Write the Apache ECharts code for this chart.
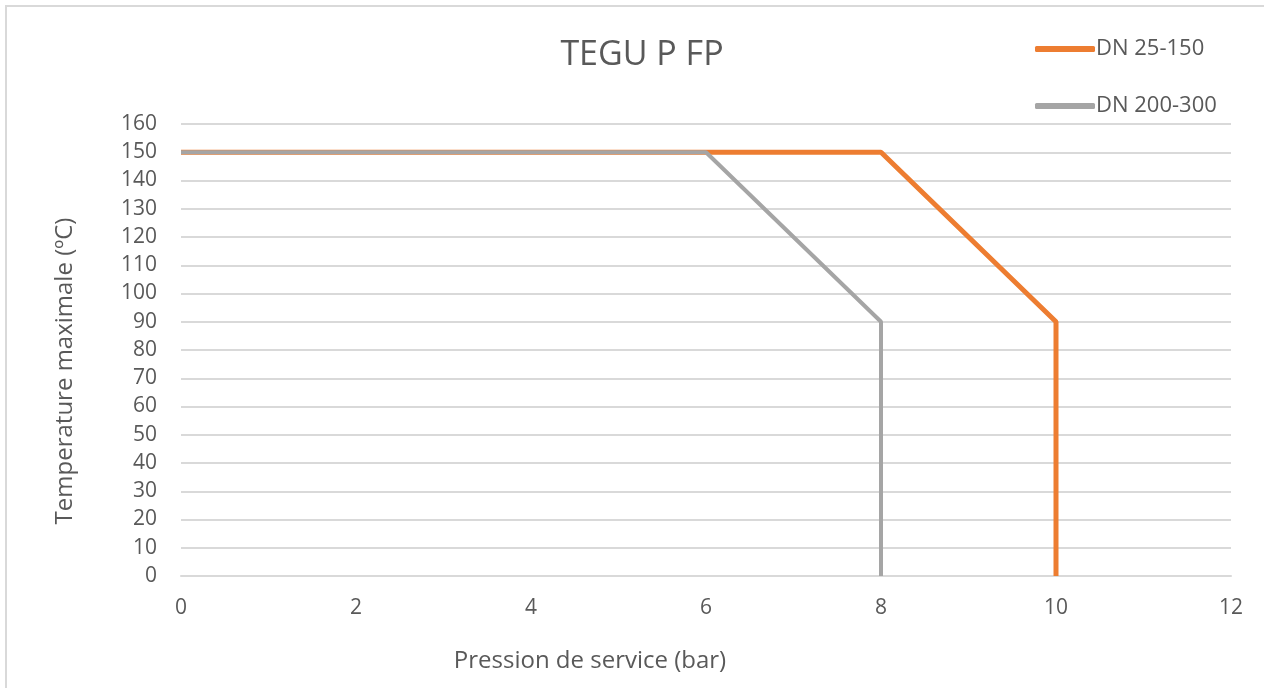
<!DOCTYPE html>
<html>
<head>
<meta charset="utf-8">
<script src="https://cdn.jsdelivr.net/npm/echarts@6/dist/echarts.min.js"></script>
<style>
    html, body { margin: 0; padding: 0; background: #fff; }
    #chart { width: 1264px; height: 688px; }
</style>
</head>
<body>
<div id="chart"></div>
<script>
// Séries (pression en bar, température en ºC)
var seriesNames = ['DN 25-150', 'DN 200-300'];
var pressionDN25 = [0, 8, 10, 10];
var tempDN25 = [150, 150, 90, 0];
var pressionDN200 = [0, 6, 8, 8];
var tempDN200 = [150, 150, 90, 0];
var colors = ['#ED7D31', '#A5A5A5'];

function toPoints(xs, ys) {
    var pts = [];
    for (var i = 0; i < xs.length; i++) {
        pts.push([xs[i], ys[i]]);
    }
    return pts;
}

var txt = '#595959';
var font = '"Open Sans", "Noto Sans", sans-serif';

var chart = echarts.init(document.getElementById('chart'));
var option = {
    backgroundColor: '#fff',
    animation: false,
    graphic: [{
        type: 'rect',
        shape: { x: 6, y: 6, width: 1300, height: 720 },
        style: { fill: 'none', stroke: '#d9d9d9', lineWidth: 2 },
        silent: true
    }],
    title: {
        text: 'TEGU P FP',
        left: 637,
        top: 33,
        textAlign: 'center',
        textStyle: { color: txt, fontSize: 34, fontWeight: 'normal', fontFamily: font }
    },
    legend: {
        orient: 'vertical',
        left: 1030,
        top: 33,
        itemWidth: 60,
        itemHeight: 6,
        itemGap: 35,
        icon: 'roundRect',
        textStyle: { color: txt, fontSize: 22, fontFamily: font, padding: [0, 0, 0, -4] },
        data: seriesNames
    },
    grid: {
        left: 181,
        right: 33,
        top: 124,
        bottom: 112
    },
    xAxis: {
        type: 'value',
        min: 0,
        max: 12,
        interval: 2,
        name: 'Pression de service (bar)',
        nameLocation: 'middle',
        nameGap: 73,
        nameTextStyle: { color: txt, fontSize: 24, fontFamily: font, padding: [0, 232, 0, 0] },
        axisLine: { show: true, lineStyle: { color: '#d9d9d9', width: 2 } },
        axisTick: { show: false },
        splitLine: { show: false },
        axisLabel: { color: txt, fontSize: 21, fontFamily: font, margin: 22 }
    },
    yAxis: {
        type: 'value',
        min: 0,
        max: 160,
        interval: 10,
        name: 'Temperature maximale (ºC)',
        nameLocation: 'middle',
        nameGap: 104,
        nameTextStyle: { color: txt, fontSize: 24, fontFamily: font, padding: [0, 42, 0, 0] },
        axisLine: { show: false },
        axisTick: { show: false },
        splitLine: { show: true, lineStyle: { color: '#d9d9d9', width: 2 } },
        axisLabel: { color: txt, fontSize: 21, fontFamily: font, margin: 24 }
    },
    series: [
        {
            name: seriesNames[0],
            type: 'line',
            symbol: 'none',
            color: colors[0],
            lineStyle: { width: 5, color: colors[0] },
            data: toPoints(pressionDN25, tempDN25)
        },
        {
            name: seriesNames[1],
            type: 'line',
            symbol: 'none',
            color: colors[1],
            lineStyle: { width: 4, color: colors[1] },
            data: toPoints(pressionDN200, tempDN200)
        }
    ]
};
chart.setOption(option);
</script>
</body>
</html>
